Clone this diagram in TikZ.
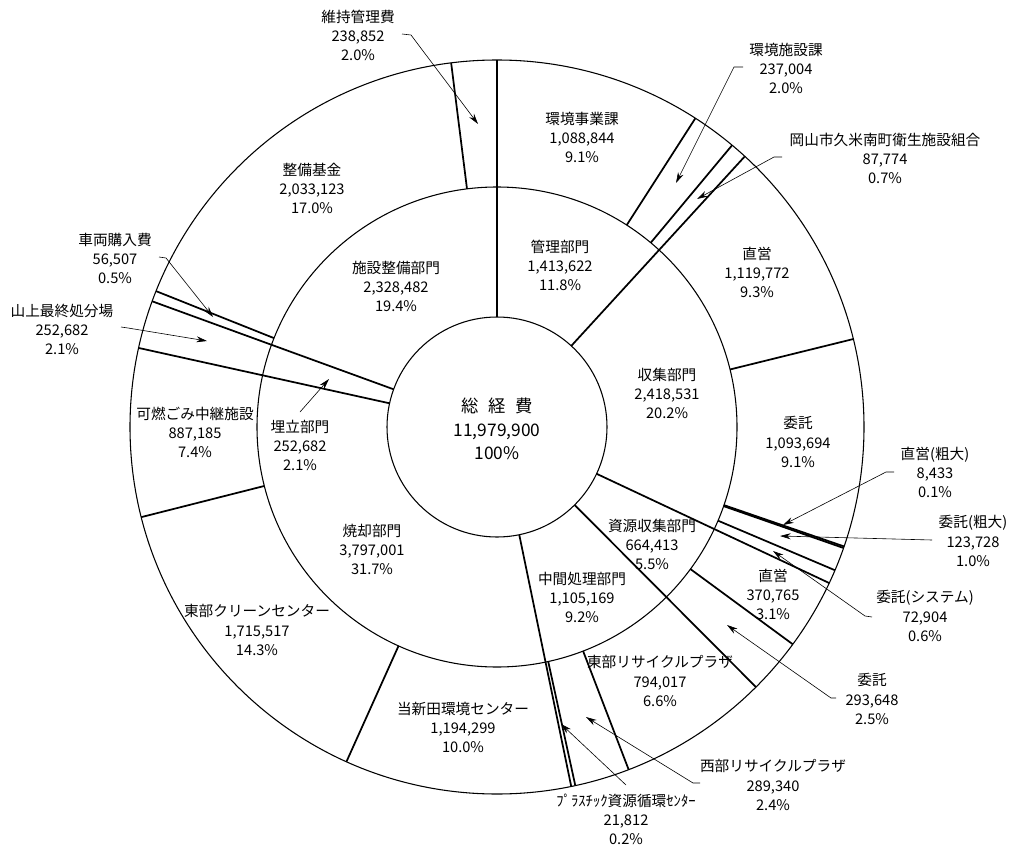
\documentclass[tikz,border=0pt]{standalone}
\usepackage{fontspec}
\setmainfont{Noto Sans CJK JP}
\usetikzlibrary{arrows.meta}
\begin{document}
\begin{tikzpicture}[x=0.75pt,y=-0.75pt,
  ring/.style={line width=0.8pt},
  rad/.style={line width=1.3pt},
  lbl/.style={align=center,inner sep=0pt,font=\fontsize{11}{14.3}\selectfont},
  arr/.style={line width=0.45pt,-{Stealth[length=8pt,width=4.5pt]}}]
\useasboundingbox (0,0) rectangle (1010,849);
\fill[white] (0,0) rectangle (1010,849);
\coordinate (C) at (497,427);
\begin{scope}[shift={(C)}]
  \draw[ring] (0,0) circle[radius=82.5pt];
  \draw[ring] (0,0) circle[radius=180pt];
  \draw[ring] (0,0) circle[radius=275.25pt];
  \foreach \a in {-90,-47.52,25.16,45.12,78.33,192.44,200.03}
    \draw[rad] (\a:110) -- (\a:367);
  \foreach \a in {-57.28,-50.16,-13.87,18.99,19.25,22.97,36.30,68.98,77.68,114.22,165.78,201.73,262.82}
    \draw[rad] (\a:240) -- (\a:367);
\end{scope}

% centre
\node[align=center,inner sep=0pt,font=\fontsize{13}{17.5}\selectfont] (total) at (497,429)
  {総\hspace{0.55em}経\hspace{0.55em}費\\11,979,900\\100\%};

% inner ring
\node[lbl] (kanri) at (560,265) {管理部門\\1,413,622\\11.8\%};
\node[lbl] (shushu) at (667,393) {収集部門\\2,418,531\\20.2\%};
\node[lbl] (shigen) at (652,544) {資源収集部門\\664,413\\5.5\%};
\node[lbl] (chukan) at (582,597) {中間処理部門\\1,105,169\\9.2\%};
\node[lbl] (shokyaku) at (372,549) {焼却部門\\3,797,001\\31.7\%};
\node[lbl] (umetate) at (300,445) {埋立部門\\252,682\\2.1\%};
\node[lbl] (shisetsu) at (396,286) {施設整備部門\\2,328,482\\19.4\%};

% outer ring
\node[lbl] (jigyo) at (582,137) {環境事業課\\1,088,844\\9.1\%};
\node[lbl] (choku1) at (757,272) {直営\\1,119,772\\9.3\%};
\node[lbl] (itaku1) at (798,442) {委託\\1,093,694\\9.1\%};
\node[lbl] (choku2) at (773,594) {直営\\370,765\\3.1\%};
\node[lbl] (tobuRP) at (660,681) {東部リサイクルプラザ\\794,017\\6.6\%};
\node[lbl] (toshinden) at (463,727) {当新田環境センター\\1,194,299\\10.0\%};
\node[lbl] (tobuCC) at (257,630) {東部クリーンセンター\\1,715,517\\14.3\%};
\node[lbl] (kanen) at (195,432) {可燃ごみ中継施設\\887,185\\7.4\%};
\node[lbl] (kikin) at (312,188) {整備基金\\2,033,123\\17.0\%};

% outside labels
\node[lbl] (iji) at (358,35) {維持管理費\\238,852\\2.0\%};
\node[lbl] (shisetsuka) at (786,68) {環境施設課\\237,004\\2.0\%};
\node[lbl] (kumiai) at (885,158) {岡山市久米南町衛生施設組合\\87,774\\0.7\%};
\node[lbl] (sharyo) at (115,258) {車両購入費\\56,507\\0.5\%};
\node[lbl] (yamagami) at (62,329) {山上最終処分場\\252,682\\2.1\%};
\node[lbl] (sodaiC) at (935,472) {直営(粗大)\\8,433\\0.1\%};
\node[lbl] (sodaiI) at (973,541) {委託(粗大)\\123,728\\1.0\%};
\node[lbl] (system) at (925,616) {委託(システム)\\72,904\\0.6\%};
\node[lbl] (itaku2) at (872,699) {委託\\293,648\\2.5\%};
\node[lbl] (seibuRP) at (773,785) {西部リサイクルプラザ\\289,340\\2.4\%};
\node[lbl] (plastic) at (626,819) {ﾌﾟﾗｽﾁｯｸ資源循環ｾﾝﾀｰ\\21,812\\0.2\%};

% leader coordinates
\coordinate (s1) at (402,34);  \coordinate (b1) at (411,35);  \coordinate (t1) at (478,124);
\coordinate (s2) at (743,67);  \coordinate (b2) at (734,67);  \coordinate (t2) at (676,183);
\coordinate (s3) at (782,157); \coordinate (b3) at (774,157); \coordinate (t3) at (697,199);
\coordinate (s4) at (159,257); \coordinate (b4) at (166,258); \coordinate (t4) at (213,317);
\coordinate (s5) at (121,327); \coordinate (b5) at (128,328); \coordinate (t5) at (207,341);
\coordinate (s6) at (300,412); \coordinate (t6) at (329,379);
\coordinate (s7) at (894,472); \coordinate (b7) at (886,472); \coordinate (t7) at (783,525);
\coordinate (s8) at (932,540); \coordinate (t8) at (780,536);
\coordinate (s9) at (872,617); \coordinate (b9) at (865,616); \coordinate (t9) at (773,551);
\coordinate (s10) at (836,698); \coordinate (b10) at (831,698); \coordinate (t10) at (727,625);
\coordinate (s11) at (700,783); \coordinate (b11) at (693,783); \coordinate (t11) at (586,717);
\coordinate (s12) at (626,785); \coordinate (t12) at (561,724);

\draw[arr] (s1) -- (b1) -- (t1);
\draw[arr] (s2) -- (b2) -- (t2);
\draw[arr] (s3) -- (b3) -- (t3);
\draw[arr] (s4) -- (b4) -- (t4);
\draw[arr] (s5) -- (b5) -- (t5);
\draw[arr] (s6) -- (t6);
\draw[arr] (s7) -- (b7) -- (t7);
\draw[arr] (s8) -- (t8);
\draw[arr] (s9) -- (b9) -- (t9);
\draw[arr] (s10) -- (b10) -- (t10);
\draw[arr] (s11) -- (b11) -- (t11);
\draw[arr] (s12) -- (t12);
\end{tikzpicture}
\end{document}
